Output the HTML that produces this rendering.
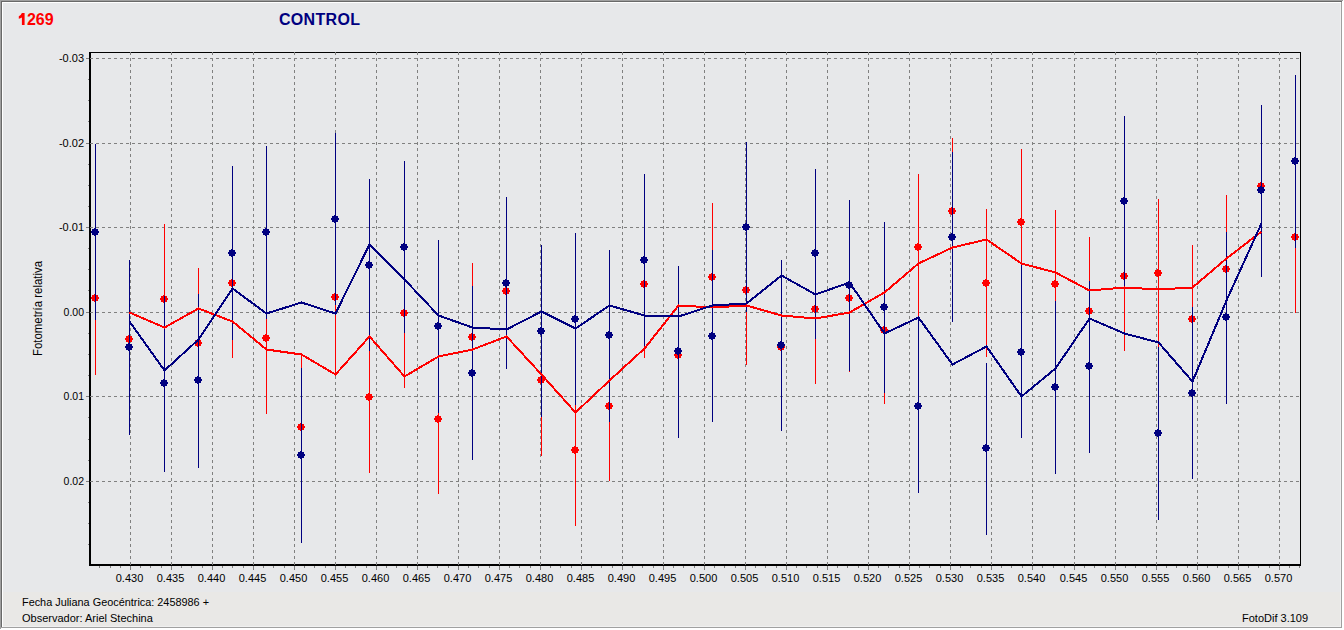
<!DOCTYPE html><html><head><meta charset="utf-8"><style>html,body{margin:0;padding:0;background:#e7e8ea;}body{width:1344px;height:630px;overflow:hidden;}svg{display:block;}text{font-family:"Liberation Sans", sans-serif;}</style></head><body>
<svg width="1344" height="630" viewBox="0 0 1344 630">
<rect x="0" y="0" width="1344" height="630" fill="#e7e8ea"/>
<rect x="3" y="592" width="1337" height="35" fill="#e9e8e6"/>
<g shape-rendering="crispEdges">
<rect x="1342" y="0" width="2" height="630" fill="#ffffff"/>
<rect x="0" y="628" width="1344" height="2" fill="#ffffff"/>
<rect x="0" y="0" width="1343" height="1" fill="#a0a0a0"/>
<rect x="0" y="0" width="1" height="629" fill="#a0a0a0"/>
<rect x="1" y="1" width="1341" height="1" fill="#696969"/>
<rect x="1" y="1" width="1" height="627" fill="#696969"/>
<rect x="2" y="2" width="1339" height="1" fill="#ffffff"/>
<rect x="2" y="2" width="1" height="625" fill="#ffffff"/>
<rect x="1341" y="2" width="1" height="626" fill="#a0a0a0"/>
<rect x="1" y="627" width="1341" height="1" fill="#a0a0a0"/>
<rect x="1340" y="3" width="1" height="624" fill="#f0f0f0"/>
<rect x="3" y="626" width="1338" height="1" fill="#f0f0f0"/>
</g>
<path d="M21.9 13H24.6V25H21.9V17.4Q20.6 18.3 18.8 18.8V16.3Q20.9 15.4 21.9 13Z" fill="#ff0000"/>
<text x="26.9" y="25" font-size="16" font-weight="bold" fill="#ff0000">269</text>
<text x="279" y="25" font-size="16" font-weight="bold" fill="#000080" letter-spacing="0.3">CONTROL</text>
<g shape-rendering="crispEdges" fill="#808080">
<rect x="130" y="566" width="1" height="4"/>
<rect x="171" y="566" width="1" height="4"/>
<rect x="212" y="566" width="1" height="4"/>
<rect x="253" y="566" width="1" height="4"/>
<rect x="294" y="566" width="1" height="4"/>
<rect x="335" y="566" width="1" height="4"/>
<rect x="376" y="566" width="1" height="4"/>
<rect x="417" y="566" width="1" height="4"/>
<rect x="458" y="566" width="1" height="4"/>
<rect x="499" y="566" width="1" height="4"/>
<rect x="540" y="566" width="1" height="4"/>
<rect x="581" y="566" width="1" height="4"/>
<rect x="622" y="566" width="1" height="4"/>
<rect x="663" y="566" width="1" height="4"/>
<rect x="704" y="566" width="1" height="4"/>
<rect x="745" y="566" width="1" height="4"/>
<rect x="786" y="566" width="1" height="4"/>
<rect x="827" y="566" width="1" height="4"/>
<rect x="868" y="566" width="1" height="4"/>
<rect x="909" y="566" width="1" height="4"/>
<rect x="950" y="566" width="1" height="4"/>
<rect x="991" y="566" width="1" height="4"/>
<rect x="1032" y="566" width="1" height="4"/>
<rect x="1074" y="566" width="1" height="4"/>
<rect x="1115" y="566" width="1" height="4"/>
<rect x="1156" y="566" width="1" height="4"/>
<rect x="1197" y="566" width="1" height="4"/>
<rect x="1238" y="566" width="1" height="4"/>
<rect x="1279" y="566" width="1" height="4"/>
<rect x="99" y="566" width="1" height="2"/>
<rect x="110" y="566" width="1" height="2"/>
<rect x="120" y="566" width="1" height="2"/>
<rect x="140" y="566" width="1" height="2"/>
<rect x="150" y="566" width="1" height="2"/>
<rect x="161" y="566" width="1" height="2"/>
<rect x="181" y="566" width="1" height="2"/>
<rect x="191" y="566" width="1" height="2"/>
<rect x="202" y="566" width="1" height="2"/>
<rect x="222" y="566" width="1" height="2"/>
<rect x="232" y="566" width="1" height="2"/>
<rect x="243" y="566" width="1" height="2"/>
<rect x="263" y="566" width="1" height="2"/>
<rect x="273" y="566" width="1" height="2"/>
<rect x="284" y="566" width="1" height="2"/>
<rect x="304" y="566" width="1" height="2"/>
<rect x="314" y="566" width="1" height="2"/>
<rect x="325" y="566" width="1" height="2"/>
<rect x="345" y="566" width="1" height="2"/>
<rect x="355" y="566" width="1" height="2"/>
<rect x="366" y="566" width="1" height="2"/>
<rect x="386" y="566" width="1" height="2"/>
<rect x="396" y="566" width="1" height="2"/>
<rect x="407" y="566" width="1" height="2"/>
<rect x="427" y="566" width="1" height="2"/>
<rect x="437" y="566" width="1" height="2"/>
<rect x="448" y="566" width="1" height="2"/>
<rect x="468" y="566" width="1" height="2"/>
<rect x="478" y="566" width="1" height="2"/>
<rect x="489" y="566" width="1" height="2"/>
<rect x="509" y="566" width="1" height="2"/>
<rect x="519" y="566" width="1" height="2"/>
<rect x="530" y="566" width="1" height="2"/>
<rect x="550" y="566" width="1" height="2"/>
<rect x="560" y="566" width="1" height="2"/>
<rect x="571" y="566" width="1" height="2"/>
<rect x="591" y="566" width="1" height="2"/>
<rect x="601" y="566" width="1" height="2"/>
<rect x="612" y="566" width="1" height="2"/>
<rect x="632" y="566" width="1" height="2"/>
<rect x="642" y="566" width="1" height="2"/>
<rect x="653" y="566" width="1" height="2"/>
<rect x="673" y="566" width="1" height="2"/>
<rect x="683" y="566" width="1" height="2"/>
<rect x="694" y="566" width="1" height="2"/>
<rect x="714" y="566" width="1" height="2"/>
<rect x="724" y="566" width="1" height="2"/>
<rect x="735" y="566" width="1" height="2"/>
<rect x="755" y="566" width="1" height="2"/>
<rect x="765" y="566" width="1" height="2"/>
<rect x="776" y="566" width="1" height="2"/>
<rect x="796" y="566" width="1" height="2"/>
<rect x="806" y="566" width="1" height="2"/>
<rect x="817" y="566" width="1" height="2"/>
<rect x="837" y="566" width="1" height="2"/>
<rect x="847" y="566" width="1" height="2"/>
<rect x="858" y="566" width="1" height="2"/>
<rect x="878" y="566" width="1" height="2"/>
<rect x="888" y="566" width="1" height="2"/>
<rect x="899" y="566" width="1" height="2"/>
<rect x="919" y="566" width="1" height="2"/>
<rect x="929" y="566" width="1" height="2"/>
<rect x="940" y="566" width="1" height="2"/>
<rect x="960" y="566" width="1" height="2"/>
<rect x="970" y="566" width="1" height="2"/>
<rect x="981" y="566" width="1" height="2"/>
<rect x="1001" y="566" width="1" height="2"/>
<rect x="1011" y="566" width="1" height="2"/>
<rect x="1022" y="566" width="1" height="2"/>
<rect x="1042" y="566" width="1" height="2"/>
<rect x="1053" y="566" width="1" height="2"/>
<rect x="1064" y="566" width="1" height="2"/>
<rect x="1084" y="566" width="1" height="2"/>
<rect x="1094" y="566" width="1" height="2"/>
<rect x="1105" y="566" width="1" height="2"/>
<rect x="1125" y="566" width="1" height="2"/>
<rect x="1135" y="566" width="1" height="2"/>
<rect x="1146" y="566" width="1" height="2"/>
<rect x="1166" y="566" width="1" height="2"/>
<rect x="1176" y="566" width="1" height="2"/>
<rect x="1187" y="566" width="1" height="2"/>
<rect x="1207" y="566" width="1" height="2"/>
<rect x="1217" y="566" width="1" height="2"/>
<rect x="1228" y="566" width="1" height="2"/>
<rect x="1248" y="566" width="1" height="2"/>
<rect x="1258" y="566" width="1" height="2"/>
<rect x="1269" y="566" width="1" height="2"/>
<rect x="1289" y="566" width="1" height="2"/>
<rect x="1299" y="566" width="1" height="2"/>
<rect x="86" y="58" width="3" height="1"/>
<rect x="86" y="143" width="3" height="1"/>
<rect x="86" y="227" width="3" height="1"/>
<rect x="86" y="312" width="3" height="1"/>
<rect x="86" y="396" width="3" height="1"/>
<rect x="86" y="481" width="3" height="1"/>
<rect x="88" y="79" width="1" height="1"/>
<rect x="88" y="100" width="1" height="1"/>
<rect x="88" y="121" width="1" height="1"/>
<rect x="88" y="164" width="1" height="1"/>
<rect x="88" y="185" width="1" height="1"/>
<rect x="88" y="206" width="1" height="1"/>
<rect x="88" y="248" width="1" height="1"/>
<rect x="88" y="269" width="1" height="1"/>
<rect x="88" y="290" width="1" height="1"/>
<rect x="88" y="333" width="1" height="1"/>
<rect x="88" y="354" width="1" height="1"/>
<rect x="88" y="375" width="1" height="1"/>
<rect x="88" y="417" width="1" height="1"/>
<rect x="88" y="439" width="1" height="1"/>
<rect x="88" y="460" width="1" height="1"/>
<rect x="88" y="502" width="1" height="1"/>
<rect x="88" y="523" width="1" height="1"/>
<rect x="88" y="544" width="1" height="1"/>
</g>
<text x="84" y="62" font-size="11" text-anchor="end" fill="#000">-0.03</text>
<text x="84" y="147" font-size="11" text-anchor="end" fill="#000">-0.02</text>
<text x="84" y="231" font-size="11" text-anchor="end" fill="#000">-0.01</text>
<text x="84" y="316" font-size="11" text-anchor="end" fill="#000" textLength="20.4" lengthAdjust="spacingAndGlyphs">0.00</text>
<text x="84" y="400" font-size="11" text-anchor="end" fill="#000" textLength="20.4" lengthAdjust="spacingAndGlyphs">0.01</text>
<text x="84" y="485" font-size="11" text-anchor="end" fill="#000" textLength="20.4" lengthAdjust="spacingAndGlyphs">0.02</text>
<text x="129.5" y="582" font-size="11" text-anchor="middle" fill="#000">0.430</text>
<text x="170.5" y="582" font-size="11" text-anchor="middle" fill="#000">0.435</text>
<text x="211.5" y="582" font-size="11" text-anchor="middle" fill="#000">0.440</text>
<text x="252.5" y="582" font-size="11" text-anchor="middle" fill="#000">0.445</text>
<text x="293.5" y="582" font-size="11" text-anchor="middle" fill="#000">0.450</text>
<text x="334.5" y="582" font-size="11" text-anchor="middle" fill="#000">0.455</text>
<text x="375.5" y="582" font-size="11" text-anchor="middle" fill="#000">0.460</text>
<text x="416.5" y="582" font-size="11" text-anchor="middle" fill="#000">0.465</text>
<text x="457.5" y="582" font-size="11" text-anchor="middle" fill="#000">0.470</text>
<text x="498.5" y="582" font-size="11" text-anchor="middle" fill="#000">0.475</text>
<text x="539.5" y="582" font-size="11" text-anchor="middle" fill="#000">0.480</text>
<text x="580.5" y="582" font-size="11" text-anchor="middle" fill="#000">0.485</text>
<text x="621.5" y="582" font-size="11" text-anchor="middle" fill="#000">0.490</text>
<text x="662.5" y="582" font-size="11" text-anchor="middle" fill="#000">0.495</text>
<text x="703.5" y="582" font-size="11" text-anchor="middle" fill="#000">0.500</text>
<text x="744.5" y="582" font-size="11" text-anchor="middle" fill="#000">0.505</text>
<text x="785.5" y="582" font-size="11" text-anchor="middle" fill="#000">0.510</text>
<text x="826.5" y="582" font-size="11" text-anchor="middle" fill="#000">0.515</text>
<text x="867.5" y="582" font-size="11" text-anchor="middle" fill="#000">0.520</text>
<text x="908.5" y="582" font-size="11" text-anchor="middle" fill="#000">0.525</text>
<text x="949.5" y="582" font-size="11" text-anchor="middle" fill="#000">0.530</text>
<text x="990.5" y="582" font-size="11" text-anchor="middle" fill="#000">0.535</text>
<text x="1031.5" y="582" font-size="11" text-anchor="middle" fill="#000">0.540</text>
<text x="1073.5" y="582" font-size="11" text-anchor="middle" fill="#000">0.545</text>
<text x="1114.5" y="582" font-size="11" text-anchor="middle" fill="#000">0.550</text>
<text x="1155.5" y="582" font-size="11" text-anchor="middle" fill="#000">0.555</text>
<text x="1196.5" y="582" font-size="11" text-anchor="middle" fill="#000">0.560</text>
<text x="1237.5" y="582" font-size="11" text-anchor="middle" fill="#000">0.565</text>
<text x="1278.5" y="582" font-size="11" text-anchor="middle" fill="#000">0.570</text>
<text transform="translate(42,356) rotate(-90)" font-size="12" fill="#000" textLength="95" lengthAdjust="spacingAndGlyphs">Fotometría relativa</text>
<text x="22" y="606" font-size="11" fill="#000" textLength="187" lengthAdjust="spacingAndGlyphs">Fecha Juliana Geocéntrica: 2458986 +</text>
<text x="22" y="622" font-size="11" fill="#000">Observador: Ariel Stechina</text>
<text x="1242" y="622" font-size="11" fill="#000">FotoDif 3.109</text>
<g shape-rendering="crispEdges" fill="#000">
<rect x="89" y="52" width="1212" height="1"/>
<rect x="89" y="52" width="2" height="514"/>
<rect x="1300" y="52" width="1" height="514"/>
<rect x="89" y="564" width="1212" height="2"/>
</g>
<g shape-rendering="crispEdges" stroke="#808080" stroke-width="1" stroke-dasharray="3 3">
<line x1="130.5" y1="52" x2="130.5" y2="565"/>
<line x1="171.5" y1="52" x2="171.5" y2="565"/>
<line x1="212.5" y1="52" x2="212.5" y2="565"/>
<line x1="253.5" y1="52" x2="253.5" y2="565"/>
<line x1="294.5" y1="52" x2="294.5" y2="565"/>
<line x1="335.5" y1="52" x2="335.5" y2="565"/>
<line x1="376.5" y1="52" x2="376.5" y2="565"/>
<line x1="417.5" y1="52" x2="417.5" y2="565"/>
<line x1="458.5" y1="52" x2="458.5" y2="565"/>
<line x1="499.5" y1="52" x2="499.5" y2="565"/>
<line x1="540.5" y1="52" x2="540.5" y2="565"/>
<line x1="581.5" y1="52" x2="581.5" y2="565"/>
<line x1="622.5" y1="52" x2="622.5" y2="565"/>
<line x1="663.5" y1="52" x2="663.5" y2="565"/>
<line x1="704.5" y1="52" x2="704.5" y2="565"/>
<line x1="745.5" y1="52" x2="745.5" y2="565"/>
<line x1="786.5" y1="52" x2="786.5" y2="565"/>
<line x1="827.5" y1="52" x2="827.5" y2="565"/>
<line x1="868.5" y1="52" x2="868.5" y2="565"/>
<line x1="909.5" y1="52" x2="909.5" y2="565"/>
<line x1="950.5" y1="52" x2="950.5" y2="565"/>
<line x1="991.5" y1="52" x2="991.5" y2="565"/>
<line x1="1032.5" y1="52" x2="1032.5" y2="565"/>
<line x1="1074.5" y1="52" x2="1074.5" y2="565"/>
<line x1="1115.5" y1="52" x2="1115.5" y2="565"/>
<line x1="1156.5" y1="52" x2="1156.5" y2="565"/>
<line x1="1197.5" y1="52" x2="1197.5" y2="565"/>
<line x1="1238.5" y1="52" x2="1238.5" y2="565"/>
<line x1="1279.5" y1="52" x2="1279.5" y2="565"/>
<line x1="90" y1="58.5" x2="1300" y2="58.5"/>
<line x1="90" y1="143.5" x2="1300" y2="143.5"/>
<line x1="90" y1="227.5" x2="1300" y2="227.5"/>
<line x1="90" y1="312.5" x2="1300" y2="312.5"/>
<line x1="90" y1="396.5" x2="1300" y2="396.5"/>
<line x1="90" y1="481.5" x2="1300" y2="481.5"/>
</g>
<svg x="0" y="0" width="1344" height="630"><defs><clipPath id="c"><rect x="91" y="53" width="1209" height="511"/></clipPath></defs><g clip-path="url(#c)">
<g shape-rendering="crispEdges">
<rect x="95" y="221" width="1" height="154" fill="#ff0000"/>
<rect x="129" y="264" width="1" height="149" fill="#ff0000"/>
<rect x="164" y="224" width="1" height="149" fill="#ff0000"/>
<rect x="198" y="268" width="1" height="150" fill="#ff0000"/>
<rect x="232" y="208" width="1" height="150" fill="#ff0000"/>
<rect x="266" y="262" width="1" height="152" fill="#ff0000"/>
<rect x="301" y="355" width="1" height="146" fill="#ff0000"/>
<rect x="335" y="221" width="1" height="153" fill="#ff0000"/>
<rect x="369" y="321" width="1" height="152" fill="#ff0000"/>
<rect x="404" y="238" width="1" height="150" fill="#ff0000"/>
<rect x="438" y="344" width="1" height="150" fill="#ff0000"/>
<rect x="472" y="263" width="1" height="148" fill="#ff0000"/>
<rect x="506" y="216" width="1" height="150" fill="#ff0000"/>
<rect x="541" y="304" width="1" height="152" fill="#ff0000"/>
<rect x="575" y="374" width="1" height="152" fill="#ff0000"/>
<rect x="609" y="331" width="1" height="150" fill="#ff0000"/>
<rect x="644" y="210" width="1" height="148" fill="#ff0000"/>
<rect x="678" y="280" width="1" height="150" fill="#ff0000"/>
<rect x="712" y="203" width="1" height="148" fill="#ff0000"/>
<rect x="746" y="215" width="1" height="150" fill="#ff0000"/>
<rect x="781" y="273" width="1" height="149" fill="#ff0000"/>
<rect x="815" y="235" width="1" height="149" fill="#ff0000"/>
<rect x="849" y="224" width="1" height="148" fill="#ff0000"/>
<rect x="884" y="254" width="1" height="150" fill="#ff0000"/>
<rect x="918" y="174" width="1" height="147" fill="#ff0000"/>
<rect x="952" y="138" width="1" height="147" fill="#ff0000"/>
<rect x="986" y="209" width="1" height="148" fill="#ff0000"/>
<rect x="1021" y="149" width="1" height="147" fill="#ff0000"/>
<rect x="1055" y="210" width="1" height="148" fill="#ff0000"/>
<rect x="1089" y="237" width="1" height="148" fill="#ff0000"/>
<rect x="1124" y="202" width="1" height="149" fill="#ff0000"/>
<rect x="1158" y="199" width="1" height="148" fill="#ff0000"/>
<rect x="1192" y="245" width="1" height="147" fill="#ff0000"/>
<rect x="1226" y="195" width="1" height="148" fill="#ff0000"/>
<rect x="1261" y="111" width="1" height="148" fill="#ff0000"/>
<rect x="1295" y="162" width="1" height="151" fill="#ff0000"/>
<path d="M94 294h2v1h2v2h1v2h-1v2h-2v1h-2v-1h-2v-2h-1v-2h1v-2h2z" fill="#ff0000"/>
<path d="M128 335h2v1h2v2h1v2h-1v2h-2v1h-2v-1h-2v-2h-1v-2h1v-2h2z" fill="#ff0000"/>
<path d="M163 295h2v1h2v2h1v2h-1v2h-2v1h-2v-1h-2v-2h-1v-2h1v-2h2z" fill="#ff0000"/>
<path d="M197 339h2v1h2v2h1v2h-1v2h-2v1h-2v-1h-2v-2h-1v-2h1v-2h2z" fill="#ff0000"/>
<path d="M231 279h2v1h2v2h1v2h-1v2h-2v1h-2v-1h-2v-2h-1v-2h1v-2h2z" fill="#ff0000"/>
<path d="M265 334h2v1h2v2h1v2h-1v2h-2v1h-2v-1h-2v-2h-1v-2h1v-2h2z" fill="#ff0000"/>
<path d="M300 423h2v1h2v2h1v2h-1v2h-2v1h-2v-1h-2v-2h-1v-2h1v-2h2z" fill="#ff0000"/>
<path d="M334 293h2v1h2v2h1v2h-1v2h-2v1h-2v-1h-2v-2h-1v-2h1v-2h2z" fill="#ff0000"/>
<path d="M368 393h2v1h2v2h1v2h-1v2h-2v1h-2v-1h-2v-2h-1v-2h1v-2h2z" fill="#ff0000"/>
<path d="M403 309h2v1h2v2h1v2h-1v2h-2v1h-2v-1h-2v-2h-1v-2h1v-2h2z" fill="#ff0000"/>
<path d="M437 415h2v1h2v2h1v2h-1v2h-2v1h-2v-1h-2v-2h-1v-2h1v-2h2z" fill="#ff0000"/>
<path d="M471 333h2v1h2v2h1v2h-1v2h-2v1h-2v-1h-2v-2h-1v-2h1v-2h2z" fill="#ff0000"/>
<path d="M505 287h2v1h2v2h1v2h-1v2h-2v1h-2v-1h-2v-2h-1v-2h1v-2h2z" fill="#ff0000"/>
<path d="M540 376h2v1h2v2h1v2h-1v2h-2v1h-2v-1h-2v-2h-1v-2h1v-2h2z" fill="#ff0000"/>
<path d="M574 446h2v1h2v2h1v2h-1v2h-2v1h-2v-1h-2v-2h-1v-2h1v-2h2z" fill="#ff0000"/>
<path d="M608 402h2v1h2v2h1v2h-1v2h-2v1h-2v-1h-2v-2h-1v-2h1v-2h2z" fill="#ff0000"/>
<path d="M643 280h2v1h2v2h1v2h-1v2h-2v1h-2v-1h-2v-2h-1v-2h1v-2h2z" fill="#ff0000"/>
<path d="M677 351h2v1h2v2h1v2h-1v2h-2v1h-2v-1h-2v-2h-1v-2h1v-2h2z" fill="#ff0000"/>
<path d="M711 273h2v1h2v2h1v2h-1v2h-2v1h-2v-1h-2v-2h-1v-2h1v-2h2z" fill="#ff0000"/>
<path d="M745 286h2v1h2v2h1v2h-1v2h-2v1h-2v-1h-2v-2h-1v-2h1v-2h2z" fill="#ff0000"/>
<path d="M780 343h2v1h2v2h1v2h-1v2h-2v1h-2v-1h-2v-2h-1v-2h1v-2h2z" fill="#ff0000"/>
<path d="M814 305h2v1h2v2h1v2h-1v2h-2v1h-2v-1h-2v-2h-1v-2h1v-2h2z" fill="#ff0000"/>
<path d="M848 294h2v1h2v2h1v2h-1v2h-2v1h-2v-1h-2v-2h-1v-2h1v-2h2z" fill="#ff0000"/>
<path d="M883 326h2v1h2v2h1v2h-1v2h-2v1h-2v-1h-2v-2h-1v-2h1v-2h2z" fill="#ff0000"/>
<path d="M917 243h2v1h2v2h1v2h-1v2h-2v1h-2v-1h-2v-2h-1v-2h1v-2h2z" fill="#ff0000"/>
<path d="M951 207h2v1h2v2h1v2h-1v2h-2v1h-2v-1h-2v-2h-1v-2h1v-2h2z" fill="#ff0000"/>
<path d="M985 279h2v1h2v2h1v2h-1v2h-2v1h-2v-1h-2v-2h-1v-2h1v-2h2z" fill="#ff0000"/>
<path d="M1020 218h2v1h2v2h1v2h-1v2h-2v1h-2v-1h-2v-2h-1v-2h1v-2h2z" fill="#ff0000"/>
<path d="M1054 280h2v1h2v2h1v2h-1v2h-2v1h-2v-1h-2v-2h-1v-2h1v-2h2z" fill="#ff0000"/>
<path d="M1088 307h2v1h2v2h1v2h-1v2h-2v1h-2v-1h-2v-2h-1v-2h1v-2h2z" fill="#ff0000"/>
<path d="M1123 272h2v1h2v2h1v2h-1v2h-2v1h-2v-1h-2v-2h-1v-2h1v-2h2z" fill="#ff0000"/>
<path d="M1157 269h2v1h2v2h1v2h-1v2h-2v1h-2v-1h-2v-2h-1v-2h1v-2h2z" fill="#ff0000"/>
<path d="M1191 315h2v1h2v2h1v2h-1v2h-2v1h-2v-1h-2v-2h-1v-2h1v-2h2z" fill="#ff0000"/>
<path d="M1225 265h2v1h2v2h1v2h-1v2h-2v1h-2v-1h-2v-2h-1v-2h1v-2h2z" fill="#ff0000"/>
<path d="M1260 182h2v1h2v2h1v2h-1v2h-2v1h-2v-1h-2v-2h-1v-2h1v-2h2z" fill="#ff0000"/>
<path d="M1294 233h2v1h2v2h1v2h-1v2h-2v1h-2v-1h-2v-2h-1v-2h1v-2h2z" fill="#ff0000"/>
</g>
<g shape-rendering="crispEdges">
<rect x="95" y="144" width="1" height="176" fill="#000080"/>
<rect x="129" y="260" width="1" height="175" fill="#000080"/>
<rect x="164" y="296" width="1" height="176" fill="#000080"/>
<rect x="198" y="294" width="1" height="174" fill="#000080"/>
<rect x="232" y="166" width="1" height="174" fill="#000080"/>
<rect x="266" y="146" width="1" height="173" fill="#000080"/>
<rect x="301" y="368" width="1" height="175" fill="#000080"/>
<rect x="335" y="133" width="1" height="172" fill="#000080"/>
<rect x="369" y="179" width="1" height="172" fill="#000080"/>
<rect x="404" y="161" width="1" height="172" fill="#000080"/>
<rect x="438" y="240" width="1" height="173" fill="#000080"/>
<rect x="472" y="286" width="1" height="174" fill="#000080"/>
<rect x="506" y="197" width="1" height="172" fill="#000080"/>
<rect x="541" y="245" width="1" height="172" fill="#000080"/>
<rect x="575" y="233" width="1" height="172" fill="#000080"/>
<rect x="609" y="250" width="1" height="172" fill="#000080"/>
<rect x="644" y="174" width="1" height="172" fill="#000080"/>
<rect x="678" y="266" width="1" height="172" fill="#000080"/>
<rect x="712" y="250" width="1" height="172" fill="#000080"/>
<rect x="746" y="142" width="1" height="170" fill="#000080"/>
<rect x="781" y="260" width="1" height="171" fill="#000080"/>
<rect x="815" y="169" width="1" height="170" fill="#000080"/>
<rect x="849" y="200" width="1" height="171" fill="#000080"/>
<rect x="884" y="222" width="1" height="171" fill="#000080"/>
<rect x="918" y="317" width="1" height="176" fill="#000080"/>
<rect x="952" y="152" width="1" height="170" fill="#000080"/>
<rect x="986" y="363" width="1" height="172" fill="#000080"/>
<rect x="1021" y="265" width="1" height="173" fill="#000080"/>
<rect x="1055" y="301" width="1" height="173" fill="#000080"/>
<rect x="1089" y="281" width="1" height="172" fill="#000080"/>
<rect x="1124" y="116" width="1" height="170" fill="#000080"/>
<rect x="1158" y="347" width="1" height="173" fill="#000080"/>
<rect x="1192" y="307" width="1" height="172" fill="#000080"/>
<rect x="1226" y="232" width="1" height="172" fill="#000080"/>
<rect x="1261" y="105" width="1" height="172" fill="#000080"/>
<rect x="1295" y="75" width="1" height="173" fill="#000080"/>
<path d="M94 228h2v1h2v2h1v2h-1v2h-2v1h-2v-1h-2v-2h-1v-2h1v-2h2z" fill="#000080"/>
<path d="M128 343h2v1h2v2h1v2h-1v2h-2v1h-2v-1h-2v-2h-1v-2h1v-2h2z" fill="#000080"/>
<path d="M163 379h2v1h2v2h1v2h-1v2h-2v1h-2v-1h-2v-2h-1v-2h1v-2h2z" fill="#000080"/>
<path d="M197 376h2v1h2v2h1v2h-1v2h-2v1h-2v-1h-2v-2h-1v-2h1v-2h2z" fill="#000080"/>
<path d="M231 249h2v1h2v2h1v2h-1v2h-2v1h-2v-1h-2v-2h-1v-2h1v-2h2z" fill="#000080"/>
<path d="M265 228h2v1h2v2h1v2h-1v2h-2v1h-2v-1h-2v-2h-1v-2h1v-2h2z" fill="#000080"/>
<path d="M300 451h2v1h2v2h1v2h-1v2h-2v1h-2v-1h-2v-2h-1v-2h1v-2h2z" fill="#000080"/>
<path d="M334 215h2v1h2v2h1v2h-1v2h-2v1h-2v-1h-2v-2h-1v-2h1v-2h2z" fill="#000080"/>
<path d="M368 261h2v1h2v2h1v2h-1v2h-2v1h-2v-1h-2v-2h-1v-2h1v-2h2z" fill="#000080"/>
<path d="M403 243h2v1h2v2h1v2h-1v2h-2v1h-2v-1h-2v-2h-1v-2h1v-2h2z" fill="#000080"/>
<path d="M437 322h2v1h2v2h1v2h-1v2h-2v1h-2v-1h-2v-2h-1v-2h1v-2h2z" fill="#000080"/>
<path d="M471 369h2v1h2v2h1v2h-1v2h-2v1h-2v-1h-2v-2h-1v-2h1v-2h2z" fill="#000080"/>
<path d="M505 279h2v1h2v2h1v2h-1v2h-2v1h-2v-1h-2v-2h-1v-2h1v-2h2z" fill="#000080"/>
<path d="M540 327h2v1h2v2h1v2h-1v2h-2v1h-2v-1h-2v-2h-1v-2h1v-2h2z" fill="#000080"/>
<path d="M574 315h2v1h2v2h1v2h-1v2h-2v1h-2v-1h-2v-2h-1v-2h1v-2h2z" fill="#000080"/>
<path d="M608 331h2v1h2v2h1v2h-1v2h-2v1h-2v-1h-2v-2h-1v-2h1v-2h2z" fill="#000080"/>
<path d="M643 256h2v1h2v2h1v2h-1v2h-2v1h-2v-1h-2v-2h-1v-2h1v-2h2z" fill="#000080"/>
<path d="M677 347h2v1h2v2h1v2h-1v2h-2v1h-2v-1h-2v-2h-1v-2h1v-2h2z" fill="#000080"/>
<path d="M711 332h2v1h2v2h1v2h-1v2h-2v1h-2v-1h-2v-2h-1v-2h1v-2h2z" fill="#000080"/>
<path d="M745 223h2v1h2v2h1v2h-1v2h-2v1h-2v-1h-2v-2h-1v-2h1v-2h2z" fill="#000080"/>
<path d="M780 341h2v1h2v2h1v2h-1v2h-2v1h-2v-1h-2v-2h-1v-2h1v-2h2z" fill="#000080"/>
<path d="M814 249h2v1h2v2h1v2h-1v2h-2v1h-2v-1h-2v-2h-1v-2h1v-2h2z" fill="#000080"/>
<path d="M848 281h2v1h2v2h1v2h-1v2h-2v1h-2v-1h-2v-2h-1v-2h1v-2h2z" fill="#000080"/>
<path d="M883 303h2v1h2v2h1v2h-1v2h-2v1h-2v-1h-2v-2h-1v-2h1v-2h2z" fill="#000080"/>
<path d="M917 402h2v1h2v2h1v2h-1v2h-2v1h-2v-1h-2v-2h-1v-2h1v-2h2z" fill="#000080"/>
<path d="M951 233h2v1h2v2h1v2h-1v2h-2v1h-2v-1h-2v-2h-1v-2h1v-2h2z" fill="#000080"/>
<path d="M985 444h2v1h2v2h1v2h-1v2h-2v1h-2v-1h-2v-2h-1v-2h1v-2h2z" fill="#000080"/>
<path d="M1020 348h2v1h2v2h1v2h-1v2h-2v1h-2v-1h-2v-2h-1v-2h1v-2h2z" fill="#000080"/>
<path d="M1054 383h2v1h2v2h1v2h-1v2h-2v1h-2v-1h-2v-2h-1v-2h1v-2h2z" fill="#000080"/>
<path d="M1088 362h2v1h2v2h1v2h-1v2h-2v1h-2v-1h-2v-2h-1v-2h1v-2h2z" fill="#000080"/>
<path d="M1123 197h2v1h2v2h1v2h-1v2h-2v1h-2v-1h-2v-2h-1v-2h1v-2h2z" fill="#000080"/>
<path d="M1157 429h2v1h2v2h1v2h-1v2h-2v1h-2v-1h-2v-2h-1v-2h1v-2h2z" fill="#000080"/>
<path d="M1191 389h2v1h2v2h1v2h-1v2h-2v1h-2v-1h-2v-2h-1v-2h1v-2h2z" fill="#000080"/>
<path d="M1225 313h2v1h2v2h1v2h-1v2h-2v1h-2v-1h-2v-2h-1v-2h1v-2h2z" fill="#000080"/>
<path d="M1260 186h2v1h2v2h1v2h-1v2h-2v1h-2v-1h-2v-2h-1v-2h1v-2h2z" fill="#000080"/>
<path d="M1294 157h2v1h2v2h1v2h-1v2h-2v1h-2v-1h-2v-2h-1v-2h1v-2h2z" fill="#000080"/>
</g>
<polyline points="129.5,312.50 164.5,327.50 198.5,308.50 232.5,321.50 266.5,349.50 301.5,354.50 335.5,374.50 369.5,336.50 404.5,376.50 438.5,356.50 472.5,349.50 506.5,336.50 541.5,374.50 575.5,412.50 609.5,380.50 644.5,348.50 678.5,305.50 712.5,307.50 746.5,305.50 781.5,315.50 815.5,318.50 849.5,312.50 884.5,292.50 918.5,263.50 952.5,247.50 986.5,239.50 1021.5,263.50 1055.5,272.50 1089.5,290.50 1124.5,287.50 1158.5,289.50 1192.5,287.50 1226.5,258.50 1261.5,231.50" fill="none" stroke="#ff0000" stroke-width="2" stroke-linejoin="miter" shape-rendering="crispEdges"/>
<polyline points="129.5,321.50 164.5,370.50 198.5,339.50 232.5,288.50 266.5,313.50 301.5,302.50 335.5,313.50 369.5,244.50 404.5,279.50 438.5,315.50 472.5,327.50 506.5,329.50 541.5,311.50 575.5,328.50 609.5,305.50 644.5,315.50 678.5,316.50 712.5,305.50 746.5,303.50 781.5,275.50 815.5,294.50 849.5,282.50 884.5,333.50 918.5,317.50 952.5,364.50 986.5,346.50 1021.5,396.50 1055.5,368.50 1089.5,318.50 1124.5,333.50 1158.5,342.50 1192.5,381.50 1226.5,300.50 1261.5,223.50" fill="none" stroke="#000080" stroke-width="2" stroke-linejoin="miter" shape-rendering="crispEdges"/>
</g></svg>
</svg></body></html>
